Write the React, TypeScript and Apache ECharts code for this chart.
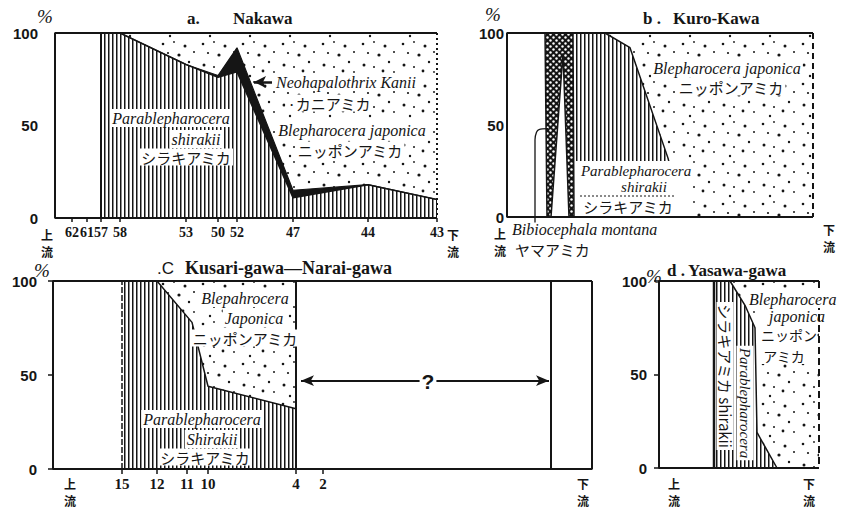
import React, { useEffect, useRef } from 'react';
import * as echarts from 'echarts';

// ---------------- Panel a : Nakawa ----------------
const aStations = ['62', '61', '57', '58', '53', '50', '52', '47', '44', '43'];
const aStationPos = [17, 32, 46, 65, 131, 163, 182, 238, 313, 382];
const aDataPos = [46, 65, 131, 163, 182, 238, 313, 382]; // stations 57 .. 43
const aParable = [100, 100, 83, 76, 79, 11, 18, 10];
const aNeohap = [0, 0, 0, 1, 13, 4, 0, 0];
const aBleph = [0, 0, 17, 23, 8, 85, 82, 90];

// ---------------- Panel b : Kuro-Kawa ----------------
const bBibioX = [28, 28, 29.5, 32, 41];
const bBibioY = [-3, 42, 46, 47.5, 48];
const bCrossX = [38, 66, 67, 62, 56, 44, 40];
const bCrossY = [100, 100, 0, 0, 89, 0, 0];
const bParableX = [68, 98, 123, 161, 176];
const bParableY = [100, 100, 92, 32, 0];
const bBlephX = [68, 306];
const bBlephY = [100, 100];

// ---------------- Panel c : Kusari-gawa - Narai-gawa ----------------
const cStations = ['15', '12', '11', '10', '4', '2'];
const cStationPos = [69, 104, 134, 155, 243, 270];
const cParableX = [69, 104, 139, 155, 243];
const cParableY = [100, 100, 78, 44, 32];
const cBlephX = [104, 243];
const cBlephY = [100, 100];
const cUnknownRange = [243, 498];

// ---------------- Panel d : Yasawa-gawa ----------------
const dParableX = [55, 71, 86, 96, 98, 118];
const dParableY = [100, 100, 87, 75, 19, 0];
const dBlephX = [71, 160];
const dBlephY = [100, 100];

const xMax = [382, 306, 539, 160];

const INK = '#151515';

const svgUrl = (w: number, h: number, body: string) =>
  'data:image/svg+xml;charset=utf-8,' +
  encodeURIComponent(`<svg xmlns="http://www.w3.org/2000/svg" width="${w}" height="${h}">${body}</svg>`);

const hatch = {
  image: svgUrl(4, 4, `<rect width="4" height="4" fill="#fff"/><rect x="0" y="0" width="1.5" height="4" fill="${INK}"/>`),
  repeat: 'repeat',
  imageWidth: 4,
  imageHeight: 4,
};
const dotList: [number, number, number][] = [
  [3, 4, 1.3], [14, 2, 0.9], [25, 6, 1.5], [34, 12, 1.0], [8, 13, 1.1], [19, 15, 1.6],
  [29, 22, 1.2], [4, 25, 1.5], [14, 27, 1.0], [23, 31, 1.4], [34, 32, 0.9], [10, 36, 1.2],
];
const dots = {
  image: svgUrl(
    40,
    40,
    `<rect width="40" height="40" fill="#fff"/>` +
      dotList.map(([x, y, r]) => `<circle cx="${x}" cy="${y}" r="${r}" fill="${INK}"/>`).join('')
  ),
  repeat: 'repeat',
  imageWidth: 40,
  imageHeight: 40,
};
const cross = {
  image: svgUrl(
    6,
    6,
    `<rect width="6" height="6" fill="${INK}"/><circle cx="1.5" cy="1.5" r="1.2" fill="#fff"/><circle cx="4.5" cy="4.5" r="1.2" fill="#fff"/>`
  ),
  repeat: 'repeat',
  imageWidth: 6,
  imageHeight: 6,
};

const pairs = (xs: number[], ys: number[]) => xs.map((x, i) => [x, ys[i]]);

const area = (idx: number, data: number[][], fill: any, lw: number, extra: any = {}) => ({
  type: 'line',
  xAxisIndex: idx,
  yAxisIndex: idx,
  data,
  symbol: 'none',
  silent: true,
  z: 2,
  lineStyle: { color: INK, width: lw },
  areaStyle: { color: fill, opacity: 1 },
  ...extra,
});

const stroke = (idx: number, data: number[][], lw: number, type: any = 'solid', extra: any = {}) => ({
  type: 'line',
  xAxisIndex: idx,
  yAxisIndex: idx,
  data,
  symbol: 'none',
  silent: true,
  clip: false,
  z: 5,
  lineStyle: { color: INK, width: lw, type },
  ...extra,
});

const frameOpen = (idx: number) => stroke(idx, [[xMax[idx], 100], [0, 100], [0, 0], [xMax[idx], 0]], 2);

const T = (text: string, x: number, y: number, o: any = {}) => ({
  type: 'text',
  x,
  y,
  z: 50,
  silent: true,
  rotation: o.rotation || 0,
  style: {
    text,
    fill: INK,
    fontFamily: o.family || 'Liberation Serif',
    fontSize: o.size || 16,
    fontWeight: o.weight || 'normal',
    fontStyle: o.style || 'normal',
    align: o.align || 'center',
    verticalAlign: o.va || 'middle',
    lineHeight: o.lh,
    backgroundColor: o.bg ? '#fff' : undefined,
    padding: o.bg ? [1, 2] : undefined,
  },
});
const it = { style: 'italic', bg: true };
const jp = { family: 'Noto Sans CJK JP', size: 15, bg: true };
// upstream / downstream marks, two stacked characters
const ud = (x: number, y: number, a: string, b: string) => [
  T(a, x, y, { family: 'Noto Sans CJK JP', size: 12, weight: 'bold' }),
  T(b, x, y + 17.5, { family: 'Noto Sans CJK JP', size: 12, weight: 'bold' }),
];

function buildOption() {
  // cumulative tops (drawn back to front)
  const aNeoTop = aParable.map((v, i) => v + aNeohap[i]);
  const aTop = aNeoTop.map((v, i) => v + aBleph[i]);

  const yAxis = [0, 1, 2, 3].map((i) => ({
    type: 'value',
    gridIndex: i,
    min: 0,
    max: 100,
    interval: 50,
    axisLine: { show: false },
    splitLine: { show: false },
    axisTick: { show: i >= 2, length: 5, lineStyle: { color: INK, width: 1.5 } },
    axisLabel: {
      color: INK,
      fontFamily: 'Liberation Sans',
      fontWeight: 'bold',
      fontSize: 15,
      margin: [17, 3, 16, 12][i],
    },
  }));

  const stationLabel = {
    color: INK,
    fontFamily: 'Liberation Serif',
    fontWeight: 'bold',
    fontSize: 14,
    margin: 7,
    hideOverlap: false,
    showMinLabel: true,
    showMaxLabel: true,
  };

  const xAxis = [
    {
      type: 'value', gridIndex: 0, min: 0, max: xMax[0],
      axisLine: { show: false }, splitLine: { show: false },
      axisTick: { show: true, customValues: aStationPos, length: 4, lineStyle: { color: INK, width: 1.5 } },
      axisLabel: {
        ...stationLabel,
        customValues: aStationPos,
        formatter: (v: number) => aStations[aStationPos.indexOf(v)] ?? '',
      },
    },
    {
      type: 'value', gridIndex: 1, min: 0, max: xMax[1],
      axisLine: { show: false }, splitLine: { show: false },
      axisTick: { show: false }, axisLabel: { show: false },
    },
    {
      type: 'value', gridIndex: 2, min: 0, max: xMax[2],
      axisLine: { show: false }, splitLine: { show: false },
      axisTick: { show: true, customValues: cStationPos, length: 5, lineStyle: { color: INK, width: 1.5 } },
      axisLabel: {
        ...stationLabel,
        fontSize: 15,
        customValues: cStationPos,
        formatter: (v: number) => cStations[cStationPos.indexOf(v)] ?? '',
      },
    },
    {
      type: 'value', gridIndex: 3, min: 0, max: xMax[3],
      axisLine: { show: false }, splitLine: { show: false },
      axisTick: { show: false }, axisLabel: { show: false },
    },
  ];

  const series: any[] = [
    // ---- a ----
    area(0, pairs(aDataPos, aTop), dots, 0),
    area(0, pairs(aDataPos, aNeoTop), INK, 1.2),
    area(0, pairs(aDataPos, aParable), hatch, 1.5),
    stroke(0, [[aDataPos[0], 0], [aDataPos[0], 100]], 2, 'solid', {
      markLine: {
        silent: true,
        animation: false,
        symbol: ['arrow', 'none'],
        symbolSize: [9, 12],
        label: { show: false },
        lineStyle: { color: INK, width: 2.5, type: 'solid' },
        data: [[{ coord: [199, 73.5] }, { coord: [217, 73.5] }]],
      },
    }),
    frameOpen(0),
    stroke(0, [[xMax[0], 100], [xMax[0], 0]], 2, [2, 3]),

    // ---- b ----
    area(1, pairs(bBlephX, bBlephY), dots, 0),
    area(1, pairs(bParableX, bParableY), hatch, 1.5),
    {
      type: 'custom',
      xAxisIndex: 1,
      yAxisIndex: 1,
      silent: true,
      z: 3,
      data: [[bCrossX[0], bCrossY[0]]],
      renderItem: (_p: any, api: any) => ({
        type: 'polygon',
        shape: { points: bCrossX.map((x, i) => api.coord([x, bCrossY[i]])) },
        style: { fill: cross, stroke: INK, lineWidth: 1.5 },
      }),
    },
    stroke(1, pairs(bBibioX, bBibioY), 1.3, 'solid', { smooth: 0.3 }),
    frameOpen(1),
    stroke(1, [[xMax[1], 100], [xMax[1], 0]], 2, [6, 4]),

    // ---- c ----
    area(2, pairs(cBlephX, cBlephY), dots, 0),
    area(2, pairs(cParableX, cParableY), hatch, 1.5),
    stroke(2, [[cParableX[0], 0], [cParableX[0], 100]], 1.5, [6, 2]),
    stroke(2, [[cUnknownRange[0], 0], [cUnknownRange[0], 100]], 2),
    stroke(2, [[cUnknownRange[1], 0], [cUnknownRange[1], 100]], 2, 'solid', {
      markLine: {
        silent: true,
        animation: false,
        symbol: ['arrow', 'arrow'],
        symbolSize: [8, 13],
        label: { show: false },
        lineStyle: { color: INK, width: 2, type: 'solid' },
        data: [[{ coord: [cUnknownRange[0] + 5, 47] }, { coord: [cUnknownRange[1] - 2, 47] }]],
      },
    }),
    stroke(2, [[xMax[2], 100], [0, 100], [0, 0], [xMax[2], 0], [xMax[2], 100]], 2),

    // ---- d ----
    area(3, pairs(dBlephX, dBlephY), dots, 0),
    area(3, pairs(dParableX, dParableY), hatch, 1.5),
    stroke(3, [[dParableX[0], 0], [dParableX[0], 100]], 2.5),
    frameOpen(3),
    stroke(3, [[xMax[3], 100], [xMax[3], 0]], 2, [7, 4]),
  ];

  const graphic = [
    // titles
    T('a.', 187, 18, { weight: 'bold', size: 17, align: 'left' }),
    T('Nakawa', 233, 18, { weight: 'bold', size: 17, align: 'left' }),
    T('b .', 643, 18, { weight: 'bold', size: 17, align: 'left' }),
    T('Kuro-Kawa', 673, 18, { weight: 'bold', size: 17, align: 'left' }),
    T('.C', 157, 268, { size: 17, align: 'left', family: 'Liberation Sans' }),
    T('Kusari-gawa—Narai-gawa', 185, 268, { weight: 'bold', size: 18, align: 'left' }),
    T('d .', 667, 270, { weight: 'bold', size: 17, align: 'left' }),
    T('Yasawa-gawa', 688, 270, { weight: 'bold', size: 17, align: 'left' }),
    // percent signs
    T('%', 45, 16, { style: 'italic', size: 19 }),
    T('%', 493, 14, { style: 'italic', size: 19 }),
    T('%', 42, 270, { style: 'italic', size: 19 }),
    T('%', 654, 276, { style: 'italic', size: 19 }),
    // up / down stream
    ...ud(47, 234, '上', '流'),
    ...ud(453, 234, '下', '流'),
    ...ud(500, 233, '上', '流'),
    ...ud(829, 229, '下', '流'),
    ...ud(70, 483, '上', '流'),
    ...ud(583, 483, '下', '流'),
    ...ud(674, 483, '上', '流'),
    ...ud(809, 483, '下', '流'),
    // panel a labels
    T('Parablepharocera', 171, 118, it),
    T('shirakii', 196, 139, it),
    T('シラキアミカ', 186, 157, jp),
    T('Neohapalothrix Kanii', 274, 82, { ...it, align: 'left' }),
    T('·カニアミカ', 329, 103, jp),
    T('Blepharocera japonica', 352, 130, it),
    T('ニッポンアミカ', 350, 150, jp),
    // panel b labels
    { type: 'rect', z: 45, silent: true, shape: { x: 576, y: 161, width: 116, height: 55 }, style: { fill: '#fff' } },
    { type: 'line', z: 46, silent: true, shape: { x1: 580, y1: 196, x2: 676, y2: 196 }, style: { stroke: INK, lineWidth: 1, lineDash: [2, 2] } },
    T('Parablepharocera', 636, 171, { style: 'italic', size: 15 }),
    T('shirakii', 644, 187, { style: 'italic', size: 15 }),
    T('シラキアミカ', 628, 206, { family: 'Noto Sans CJK JP', size: 15 }),
    T('Blepharocera japonica', 727, 68, it),
    T('ニッポンアミカ', 731, 87, jp),
    T('Bibiocephala montana', 512, 229, { style: 'italic', size: 16, align: 'left' }),
    T('ヤマアミカ', 515, 249, { family: 'Noto Sans CJK JP', size: 15, align: 'left' }),
    // panel c labels
    T('Blepahrocera', 245, 298, it),
    T('Japonica', 254, 318, it),
    T('ニッポンアミカ', 245, 338, jp),
    T('Parablepharocera', 202, 419, it),
    T('Shirakii', 212, 439, it),
    T('シラキアミカ', 205, 457, jp),
    T('?', 428, 381, { weight: 'bold', size: 21, bg: true, family: 'Liberation Sans' }),
    // panel d labels
    { type: 'rect', z: 45, silent: true, shape: { x: 761, y: 307, width: 55, height: 57 }, style: { fill: '#fff' } },
    T('シラキアミカ shirakii', 725, 376, { ...it, family: 'Noto Sans CJK JP', style: 'normal', size: 15, rotation: -Math.PI / 2 }),
    T('Parablepharocera', 745, 403, { ...it, size: 15, rotation: -Math.PI / 2 }),
    T('Blepharocera', 747, 299, { ...it, align: 'left' }),
    T('japonica', 797, 316, { style: 'italic' }),
    T('ニッポン', 789, 335, { family: 'Noto Sans CJK JP', size: 14 }),
    T('アミカ', 784, 355.5, { family: 'Noto Sans CJK JP', size: 14 }),
  ];

  return {
    animation: false,
    backgroundColor: '#fff',
    grid: [
      { left: 55, top: 33, width: 382, height: 185, outerBoundsMode: 'none', containLabel: false },
      { left: 507, top: 33, width: 306, height: 184, outerBoundsMode: 'none', containLabel: false },
      { left: 53, top: 281, width: 539, height: 188, outerBoundsMode: 'none', containLabel: false },
      { left: 659, top: 281, width: 160, height: 187, outerBoundsMode: 'none', containLabel: false },
    ],
    xAxis,
    yAxis,
    series,
    graphic,
  };
}

export default function App() {
  const ref = useRef<HTMLDivElement>(null);
  useEffect(() => {
    if (!ref.current) return;
    const chart = echarts.init(ref.current, null, { renderer: 'svg' });
    chart.setOption(buildOption() as any);
    return () => chart.dispose();
  }, []);
  return (
    <div
      ref={ref}
      style={{ position: 'fixed', left: 0, top: 0, width: 841, height: 512, background: '#fff' }}
    />
  );
}
